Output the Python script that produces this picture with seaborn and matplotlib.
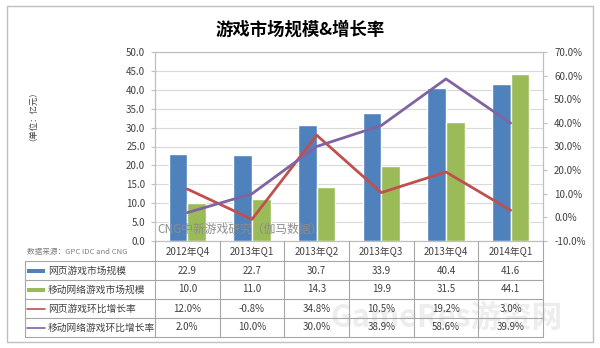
import numpy as np
import pandas as pd
import matplotlib
matplotlib.use("Agg")
import matplotlib.pyplot as plt
from matplotlib.patches import Rectangle
import seaborn as sns

sns.set_style("white")
plt.rcParams["font.family"] = ["Noto Sans CJK SC", "DejaVu Sans"]

# ---- data ----
quarters = ["2012年Q4", "2013年Q1", "2013年Q2", "2013年Q3", "2013年Q4", "2014年Q1"]
web_size = [22.9, 22.7, 30.7, 33.9, 40.4, 41.6]
mobile_size = [10.0, 11.0, 14.3, 19.9, 31.5, 44.1]
web_growth = [12.0, -0.8, 34.8, 10.5, 19.2, 3.0]
mobile_growth = [2.0, 10.0, 30.0, 38.9, 58.6, 39.9]

series_names = ["网页游戏市场规模", "移动网络游戏市场规模", "网页游戏环比增长率", "移动网络游戏环比增长率"]
left_ticks = np.arange(0, 50.1, 5)
right_ticks = np.arange(-10, 70.1, 10)

BLUE, GREEN, RED, PURPLE = "#4F81BD", "#9BBB59", "#C0504D", "#8064A2"
TXT = "#404040"
GRID = "#D9D9D9"

W, H = 600, 348
fig = plt.figure(figsize=(W / 100, H / 100), dpi=100)
fig.patch.set_facecolor("white")


def rect(x0, y0, x1, y1):
    return [x0 / W, 1 - y1 / H, (x1 - x0) / W, (y1 - y0) / H]


# outer frame
frame = fig.add_axes([0, 0, 1, 1])
frame.set_xlim(0, W)
frame.set_ylim(H, 0)
frame.axis("off")
frame.add_patch(Rectangle((7, 6), 586, 336, fill=False, ec="#BFBFBF", lw=1))
frame.text(300, 30, "游戏市场规模&增长率", ha="center", va="center",
           fontsize=12.5, fontweight="bold", color="#000000")
frame.text(29, 112, "（单位：亿元）", rotation=90, ha="center", va="center",
           fontsize=6, color=TXT)

# ---- main chart ----
PX0, PX1, PY0, PY1 = 155, 543, 52, 241
ax = fig.add_axes(rect(PX0, PY0, PX1, PY1))
bars = pd.DataFrame({
    "quarter": quarters * 2,
    "value": web_size + mobile_size,
    "series": [series_names[0]] * 6 + [series_names[1]] * 6,
})
sns.barplot(data=bars, x="quarter", y="value", hue="series",
            palette=[BLUE, GREEN], width=0.58, gap=0, saturation=1,
            legend=False, ax=ax)
ax.set_xlim(-0.5, 5.5)
ax.set_ylim(0, 50)
ax.set_yticks(left_ticks)
ax.set_yticklabels([f"{v:.1f}" for v in left_ticks], fontsize=7, color=TXT)
ax.set_xticks([])
ax.set_xlabel("")
ax.set_ylabel("")
ax.yaxis.grid(True, color=GRID, lw=0.8)
ax.set_axisbelow(True)
for s in ["left", "right", "top", "bottom"]:
    ax.spines[s].set_color("#BFBFBF")
    ax.spines[s].set_linewidth(0.8)
ax.tick_params(axis="y", length=3, color="#BFBFBF", pad=4, left=True)

ax2 = ax.twinx()
pos = np.arange(len(quarters))
sns.lineplot(x=pos, y=web_growth, color=RED, lw=2, ax=ax2)
sns.lineplot(x=pos, y=mobile_growth, color=PURPLE, lw=2, ax=ax2)
ax2.set_ylim(-10, 70)
ax2.set_yticks(right_ticks)
ax2.set_yticklabels([f"{v:.1f}%" for v in right_ticks], fontsize=7, color=TXT)
ax2.tick_params(axis="y", length=3, color="#BFBFBF", pad=5, right=True)
for s in ["left", "right", "top", "bottom"]:
    ax2.spines[s].set_color("#BFBFBF")
    ax2.spines[s].set_linewidth(0.8)
ax2.set_xlim(-0.5, 5.5)

ax.text(0.005, 0.03, "CNG中新游戏研究（伽马数据）", transform=ax.transAxes,
        fontsize=8.5, color="#8C8C8C", ha="left", va="bottom", zorder=5)

# ---- data table ----
TX0, TY1 = 25, 337
tb = fig.add_axes(rect(TX0, PY1, PX1, TY1))
tb.set_xlim(TX0, PX1)
tb.set_ylim(TY1, PY1)
tb.axis("off")
col_w = (PX1 - PX0) / len(quarters)
row_edges = [261, 280, 299, 318, 337]
LC = "#A6A6A6"
for y in row_edges:
    tb.plot([TX0, PX1], [y, y], color=LC, lw=0.8, clip_on=False)
for i in range(len(quarters) + 1):
    x = PX0 + i * col_w
    tb.plot([x, x], [PY1, TY1], color=LC, lw=0.8, clip_on=False)
tb.plot([TX0, TX0], [row_edges[0], TY1], color=LC, lw=0.8, clip_on=False)

tb.text(TX0 + 2, 252, "数据来源：GPC IDC and CNG", fontsize=5.5, color="#7F7F7F",
        ha="left", va="center")
for i, q in enumerate(quarters):
    tb.text(PX0 + (i + 0.5) * col_w, 252, q, fontsize=7, color=TXT,
            ha="center", va="center")

rows = [
    [f"{v:.1f}" for v in web_size],
    [f"{v:.1f}" for v in mobile_size],
    [f"{v:.1f}%" for v in web_growth],
    [f"{v:.1f}%" for v in mobile_growth],
]
row_colors = [BLUE, GREEN, RED, PURPLE]
for r in range(4):
    yc = (row_edges[r] + row_edges[r + 1]) / 2
    if r < 2:
        tb.add_patch(Rectangle((27, yc - 2), 18, 4, color=row_colors[r], lw=0))
    else:
        tb.plot([27, 45], [yc, yc], color=row_colors[r], lw=1.2)
    tb.text(48, yc, series_names[r], fontsize=7, color=TXT, ha="left", va="center")
    for i, s in enumerate(rows[r]):
        tb.text(PX0 + (i + 0.5) * col_w, yc, s, fontsize=7, color=TXT,
                ha="center", va="center")

frame.text(330, 318, "GameRes游资网", fontsize=22, fontweight="bold",
           color="#CCCCCC", alpha=0.35, ha="left", va="center", zorder=10)

fig.savefig("out.png", dpi=100, facecolor="white")
